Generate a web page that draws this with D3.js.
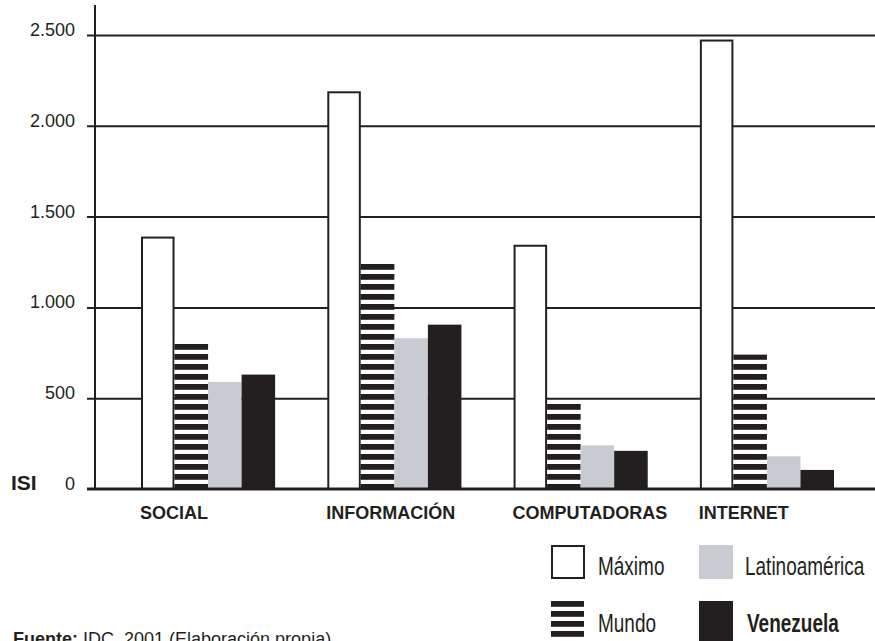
<!DOCTYPE html>
<html>
<head>
<meta charset="utf-8">
<script src="https://cdn.jsdelivr.net/npm/d3@7"></script>
<style>
  html, body { margin: 0; padding: 0; background: #fff; }
  svg { display: block; font-family: "Liberation Sans", Arial, Helvetica, sans-serif; }
</style>
</head>
<body>
<svg id="chart" width="875" height="641"></svg>
<script>
// ISI sub-indices by category
const categories = ["SOCIAL", "INFORMACIÓN", "COMPUTADORAS", "INTERNET"];
const seriesNames = ["Máximo", "Mundo", "Latinoamérica", "Venezuela"];
const maximo = [1390, 2190, 1345, 2475];
const mundo = [800, 1240, 470, 740];
const latinoamerica = [590, 830, 240, 180];
const venezuela = [630, 905, 210, 105];
const yTicks = [0, 500, 1000, 1500, 2000, 2500];
const axisTitle = "ISI";
const sourceBold = "Fuente:";
const sourceText = " IDC, 2001 (Elaboración propia)";

const seriesValues = [maximo, mundo, latinoamerica, venezuela];
const rows = categories.map((c, i) => ({
  category: c,
  values: seriesNames.map((s, j) => ({ series: s, value: seriesValues[j][i] }))
}));

const INK = "#231f20";
const GREY = "#c8cbd1";

const svg = d3.select("#chart");
const defs = svg.append("defs");

// horizontal stripe fill used for "Mundo"
function stripes(id, offset) {
  const p = defs.append("pattern")
    .attr("id", id)
    .attr("patternUnits", "userSpaceOnUse")
    .attr("x", 0).attr("y", offset)
    .attr("width", 10).attr("height", 10);
  p.append("rect").attr("width", 10).attr("height", 10).attr("fill", "#fff");
  p.append("rect").attr("width", 10).attr("height", 5.8).attr("fill", INK);
}
stripes("stripeBars", 4);
stripes("stripeKey", 1);

const y = d3.scaleLinear().domain([0, 2500]).range([489, 35]);
const x0 = d3.scaleBand().domain(categories).range([141, 834]).paddingInner(0.28).paddingOuter(0);
const x1 = d3.scaleBand().domain(seriesNames).range([0, x0.bandwidth()]).padding(0);

const locale = d3.formatLocale({ decimal: ",", thousands: ".", grouping: [3], currency: ["", ""] });
const fmt = locale.format(",");

// gridlines + tick labels
const axisG = svg.append("g")
  .attr("transform", "translate(87,0)")
  .call(d3.axisLeft(y).tickValues(yTicks).tickFormat(fmt).tickSizeInner(-788).tickSizeOuter(0).tickPadding(12));
axisG.select(".domain").remove();
axisG.selectAll(".tick line").attr("stroke", INK).attr("stroke-width", 2)
  .filter(d => d === 0).remove();
axisG.selectAll(".tick text")
  .attr("font-size", 18).attr("fill", INK).attr("font-family", "Liberation Sans, Arial, sans-serif")
  .attr("dy", "0.5");

// vertical axis line
svg.append("line")
  .attr("x1", 95).attr("x2", 95)
  .attr("y1", y(2665)).attr("y2", y(0) + 1)
  .attr("stroke", INK).attr("stroke-width", 2);

const fills = {
  "Máximo": "#fff",
  "Mundo": "url(#stripeBars)",
  "Latinoamérica": GREY,
  "Venezuela": INK
};

const groups = svg.append("g").selectAll("g")
  .data(rows).join("g")
  .attr("transform", d => `translate(${x0(d.category)},0)`);

groups.selectAll("rect")
  .data(d => d.values).join("rect")
  .attr("x", d => d.series === "Máximo" ? x1(d.series) + 1 : x1(d.series))
  .attr("width", d => d.series === "Máximo" ? x1.bandwidth() - 2 : x1.bandwidth())
  .attr("y", d => d.series === "Máximo" ? y(d.value) + 1 : y(d.value))
  .attr("height", d => y(0) - y(d.value) - (d.series === "Máximo" ? 1 : 0))
  .attr("fill", d => fills[d.series])
  .attr("stroke", d => d.series === "Máximo" ? INK : "none")
  .attr("stroke-width", 2);

// baseline
svg.append("line")
  .attr("x1", 87).attr("x2", 875)
  .attr("y1", y(0)).attr("y2", y(0))
  .attr("stroke", INK).attr("stroke-width", 3);

// category labels
svg.append("g").selectAll("text")
  .data(categories).join("text")
  .attr("x", d => x0(d) - 1)
  .attr("y", 519)
  .attr("font-size", 18).attr("font-weight", "bold").attr("fill", INK)
  .text(d => d);

// axis title
svg.append("text")
  .attr("x", 11).attr("y", 490)
  .attr("font-size", 21).attr("font-weight", "bold").attr("fill", INK)
  .text(axisTitle);

// legend
const legendItems = [
  { name: "Máximo", bx: 551, by: 545, tx: 598, ty: 575 },
  { name: "Latinoamérica", bx: 699, by: 545, tx: 745, ty: 575 },
  { name: "Mundo", bx: 551, by: 601, tx: 598, ty: 632 },
  { name: "Venezuela", bx: 699, by: 601, tx: 747, ty: 632 }
];
const legend = svg.append("g");
legendItems.forEach(it => {
  if (it.name === "Máximo") {
    legend.append("rect").attr("x", it.bx + 1).attr("y", it.by + 1).attr("width", 32).attr("height", 32)
      .attr("fill", "#fff").attr("stroke", INK).attr("stroke-width", 2);
  } else if (it.name === "Mundo") {
    legend.append("rect").attr("x", it.bx).attr("y", it.by).attr("width", 33).attr("height", 44)
      .attr("fill", "url(#stripeKey)");
  } else {
    legend.append("rect").attr("x", it.bx).attr("y", it.by).attr("width", 34).attr("height", it.name === "Venezuela" ? 44 : 34)
      .attr("fill", fills[it.name]);
  }
  legend.append("text")
    .attr("transform", `translate(${it.tx},${it.ty}) scale(0.76,1)`)
    .attr("font-size", 25)
    .attr("font-weight", it.name === "Venezuela" ? "bold" : "normal")
    .attr("fill", INK)
    .text(it.name);
});

// source note
const src = svg.append("text").attr("x", 13).attr("y", 645).attr("font-size", 18).attr("fill", INK);
src.append("tspan").attr("font-weight", "bold").text(sourceBold);
src.append("tspan").text(sourceText);
</script>
</body>
</html>
